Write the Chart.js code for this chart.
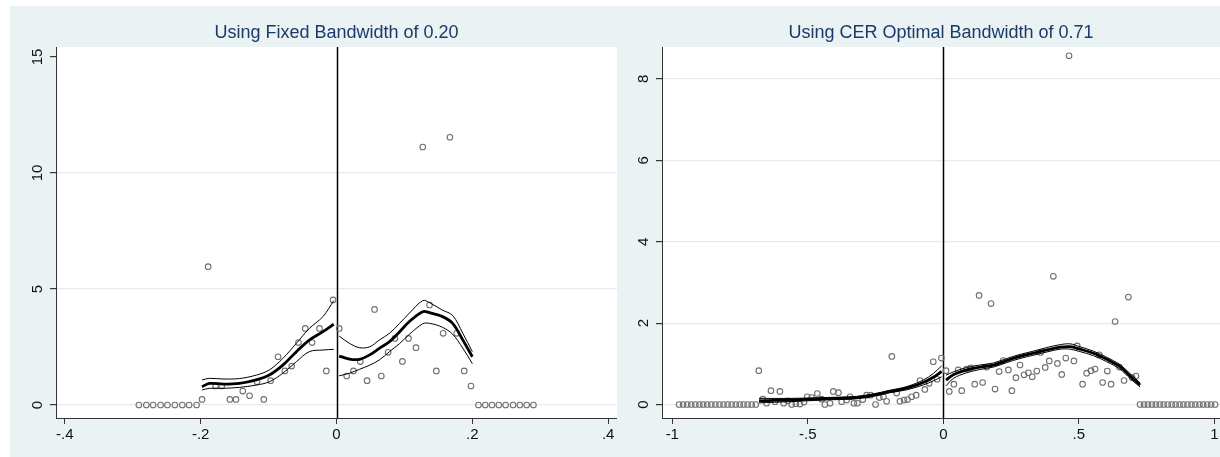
<!DOCTYPE html>
<html>
<head>
<meta charset="utf-8">
<title>RD plots: fixed vs CER bandwidth</title>
<script src="https://cdn.jsdelivr.net/npm/chart.js@4.4.1/dist/chart.umd.min.js"></script>
<style>
    html, body { margin: 0; padding: 0; background: #fff; }
    #page { position: relative; width: 1220px; height: 457px; overflow: hidden; }
    #bg { position: absolute; left: 10px; top: 6px; right: 0; bottom: 0; background: #EAF2F3; }
    #fixedChart { position: absolute; left: 0; top: 0; }
    #cerChart { position: absolute; left: 617px; top: 0; }
</style>
</head>
<body>
<div id="page">
    <div id="bg"></div>
    <canvas id="fixedChart" width="617" height="457"></canvas>
    <canvas id="cerChart" width="603" height="457"></canvas>
</div>
<script>
// --- Panel 1: fixed bandwidth of 0.20 ---
const fixedBinX = [
    -0.291, -0.280, -0.270, -0.259, -0.249, -0.238, -0.227, -0.217, -0.206,
    -0.198, -0.189, -0.178, -0.169, -0.157, -0.148, -0.138, -0.128, -0.117, -0.107,
    -0.097, -0.086, -0.076, -0.066, -0.056, -0.046, -0.036, -0.025, -0.015, -0.005,
    0.004, 0.015, 0.025, 0.035, 0.045, 0.056, 0.066, 0.076, 0.086, 0.097,
    0.106, 0.117, 0.127, 0.137, 0.147, 0.157, 0.167, 0.177, 0.188, 0.198,
    0.209, 0.219, 0.229, 0.239, 0.249, 0.260, 0.270, 0.280, 0.290
];
const fixedBinY = [
    0, 0, 0, 0, 0, 0, 0, 0, 0,
    0.24, 5.96, 0.82, 0.82, 0.24, 0.24, 0.60, 0.40, 1.00, 0.24,
    1.05, 2.08, 1.47, 1.68, 2.69, 3.30, 2.69, 3.30, 1.47, 4.53,
    3.30, 1.25, 1.47, 1.87, 1.05, 4.12, 1.25, 2.27, 2.87, 1.88,
    2.87, 2.47, 11.12, 4.31, 1.47, 3.09, 11.54, 3.09, 1.47, 0.82,
    0, 0, 0, 0, 0, 0, 0, 0, 0
];
const fixedFitLeftX = [-0.198, -0.187, -0.167, -0.143, -0.118, -0.099, -0.079, -0.059, -0.040, -0.020, -0.004];
const fixedFitLeft = [0.79, 0.93, 0.90, 0.93, 1.08, 1.29, 1.72, 2.30, 2.80, 3.16, 3.48];
const fixedUpperLeft = [1.08, 1.15, 1.12, 1.14, 1.29, 1.51, 2.01, 2.66, 3.30, 3.81, 4.50];
const fixedLowerLeft = [0.65, 0.72, 0.72, 0.76, 0.86, 1.00, 1.37, 1.87, 2.30, 2.37, 2.40];
const fixedFitRightX = [0.004, 0.019, 0.034, 0.049, 0.063, 0.078, 0.093, 0.107, 0.127, 0.137, 0.156, 0.171, 0.186, 0.200];
const fixedFitRight = [2.11, 1.98, 1.97, 2.16, 2.44, 2.73, 3.16, 3.59, 4.02, 3.98, 3.81, 3.52, 2.80, 2.08];
const fixedUpperRight = [2.97, 2.66, 2.47, 2.51, 2.80, 3.09, 3.52, 3.95, 4.50, 4.41, 4.09, 3.86, 3.09, 2.30];
const fixedLowerRight = [1.26, 1.37, 1.54, 1.72, 1.94, 2.30, 2.65, 3.04, 3.50, 3.52, 3.35, 3.05, 2.45, 1.78];

const fixedXTicks = [-0.4, -0.2, 0, 0.2, 0.4];
const fixedXLabels = ['-.4', '-.2', '0', '.2', '.4'];
const fixedYTicks = [0, 5, 10, 15];
const fixedYLabels = ['0', '5', '10', '15'];
const fixedYGrid = [0, 5, 10];

// --- Panel 2: CER optimal bandwidth of 0.71 ---
const cerBinX = [
    -0.975, -0.960, -0.945, -0.930, -0.915, -0.900, -0.886, -0.871, -0.856, -0.841,
    -0.826, -0.811, -0.796, -0.781, -0.766, -0.751, -0.737, -0.722, -0.707, -0.692,
    -0.681, -0.666, -0.652, -0.636, -0.621, -0.603, -0.589, -0.574, -0.559, -0.544,
    -0.529, -0.514, -0.502, -0.486, -0.465, -0.449, -0.437, -0.418, -0.406, -0.387,
    -0.375, -0.357, -0.344, -0.330, -0.317, -0.297, -0.283, -0.268, -0.250, -0.236,
    -0.221, -0.209, -0.190, -0.172, -0.160, -0.145, -0.132, -0.117, -0.100, -0.086,
    -0.068, -0.052, -0.037, -0.023, -0.007,
    0.010, 0.022, 0.039, 0.055, 0.068, 0.086, 0.101, 0.116, 0.132, 0.145,
    0.160, 0.176, 0.191, 0.206, 0.221, 0.240, 0.253, 0.268, 0.283, 0.298,
    0.314, 0.328, 0.345, 0.359, 0.376, 0.391, 0.406, 0.421, 0.437, 0.452,
    0.464, 0.482, 0.494, 0.514, 0.529, 0.545, 0.560, 0.576, 0.588, 0.605,
    0.619, 0.634, 0.650, 0.667, 0.683, 0.697, 0.711,
    0.726, 0.741, 0.755, 0.770, 0.784, 0.799, 0.813, 0.828, 0.843, 0.857,
    0.872, 0.886, 0.901, 0.916, 0.930, 0.945, 0.959, 0.974, 0.988, 1.003
];
const cerBinY = [
    0, 0, 0, 0, 0, 0, 0, 0, 0, 0,
    0, 0, 0, 0, 0, 0, 0, 0, 0, 0,
    0.83, 0.13, 0.03, 0.34, 0.07, 0.32, 0.03, 0.09, 0.00, 0.02,
    0.01, 0.06, 0.19, 0.17, 0.27, 0.13, 0.00, 0.03, 0.32, 0.29,
    0.07, 0.11, 0.19, 0.03, 0.03, 0.12, 0.23, 0.23, 0.00, 0.17,
    0.19, 0.08, 1.18, 0.28, 0.08, 0.11, 0.12, 0.19, 0.23, 0.59,
    0.37, 0.52, 1.05, 0.62, 1.14,
    0.83, 0.32, 0.50, 0.85, 0.34, 0.87, 0.90, 0.50, 2.68, 0.54,
    0.92, 2.48, 0.38, 0.81, 1.08, 0.85, 0.34, 0.66, 0.97, 0.73,
    0.78, 0.68, 0.82, 1.28, 0.91, 1.07, 3.15, 1.01, 0.74, 1.14,
    8.57, 1.07, 1.44, 0.50, 0.77, 0.83, 0.87, 1.22, 0.54, 0.82,
    0.50, 2.04, 0.92, 0.59, 2.64, 0.66, 0.70,
    0, 0, 0, 0, 0, 0, 0, 0, 0, 0,
    0, 0, 0, 0, 0, 0, 0, 0, 0, 0
];
const cerFitLeftX = [-0.680, -0.566, -0.443, -0.320, -0.258, -0.197, -0.135, -0.074, -0.037, -0.006];
const cerFitLeft = [0.09, 0.11, 0.14, 0.17, 0.23, 0.32, 0.40, 0.54, 0.67, 0.81];
const cerUpperLeft = [0.15, 0.15, 0.17, 0.20, 0.26, 0.35, 0.44, 0.60, 0.76, 0.95];
const cerLowerLeft = [0.04, 0.07, 0.11, 0.14, 0.20, 0.29, 0.36, 0.48, 0.58, 0.68];
const cerFitRightX = [0.010, 0.037, 0.086, 0.135, 0.185, 0.234, 0.283, 0.332, 0.382, 0.431, 0.468, 0.504, 0.554, 0.603, 0.652, 0.689, 0.726];
const cerFitRight = [0.60, 0.73, 0.85, 0.92, 0.97, 1.08, 1.18, 1.26, 1.34, 1.41, 1.42, 1.36, 1.26, 1.11, 0.93, 0.70, 0.48];
const cerUpperRight = [0.72, 0.80, 0.91, 0.97, 1.02, 1.13, 1.23, 1.31, 1.40, 1.47, 1.49, 1.42, 1.31, 1.16, 0.98, 0.76, 0.53];
const cerLowerRight = [0.46, 0.64, 0.78, 0.86, 0.92, 1.03, 1.13, 1.21, 1.29, 1.36, 1.36, 1.30, 1.20, 1.05, 0.87, 0.64, 0.43];

const cerXTicks = [-1, -0.5, 0, 0.5, 1];
const cerXLabels = ['-1', '-.5', '0', '.5', '1'];
const cerYTicks = [0, 2, 4, 6, 8];
const cerYLabels = ['0', '2', '4', '6', '8'];
const cerYGrid = [0, 2, 4, 6, 8];

const CUTOFF = 0;

// --- Styling ---
const FONT = '"Liberation Sans", Arial, sans-serif';
const TITLE_COLOR = '#1A3A6A';
const GRID_COLOR = '#E2EBEE';
const AXIS_COLOR = '#333';
const MARKER_COLOR = '#6f6f6f';

Chart.defaults.font.family = FONT;

const zip = (xs, ys) => xs.map((x, i) => ({ x: x, y: ys[i] }));

// white plot region, Stata style
const plotRegion = {
    id: 'plotRegion',
    beforeDraw(chart) {
        const { ctx, chartArea: a } = chart;
        ctx.save();
        ctx.fillStyle = '#fff';
        ctx.fillRect(a.left, a.top, a.width, a.height);
        ctx.restore();
    }
};

// vertical line at the cutoff
const cutoffLine = {
    id: 'cutoffLine',
    beforeDatasetsDraw(chart) {
        const { ctx, chartArea: a, scales } = chart;
        const x = Math.round(scales.x.getPixelForValue(CUTOFF)) + 0.5;
        ctx.save();
        ctx.strokeStyle = '#000';
        ctx.lineWidth = 1.5;
        ctx.beginPath();
        ctx.moveTo(x, a.top);
        ctx.lineTo(x, a.bottom);
        ctx.stroke();
        ctx.restore();
    }
};

/**
 * Rotated y tick labels (Chart.js won't rotate y-axis labels)
 */
function yLabelPlugin(ticks, labels, offset) {
    return {
        id: 'yLabels',
        afterDraw(chart) {
            const { ctx, chartArea: a, scales } = chart;
            ctx.save();
            ctx.fillStyle = '#111';
            ctx.font = '15px ' + FONT;
            ctx.textAlign = 'center';
            ctx.textBaseline = 'middle';
            ticks.forEach((v, i) => {
                ctx.save();
                ctx.translate(a.left - offset, scales.y.getPixelForValue(v));
                ctx.rotate(-Math.PI / 2);
                ctx.fillText(labels[i], 0, 0);
                ctx.restore();
            });
            ctx.restore();
        }
    };
}

function lineSet(xs, ys, width) {
    return {
        data: zip(xs, ys),
        showLine: true,
        borderColor: '#000',
        borderWidth: width,
        pointRadius: 0,
        tension: 0.35,
        order: 1
    };
}

/**
 * Builds one rdplot-like panel
 */
function buildPanel(canvasId, p) {
    const datasets = [];
    p.sides.forEach(s => {
        datasets.push(lineSet(s.x, s.fit, 2.8));
        datasets.push(lineSet(s.x, s.upper, 1));
        datasets.push(lineSet(s.x, s.lower, 1));
    });
    datasets.push({
        data: zip(p.binX, p.binY),
        showLine: false,
        pointRadius: 2.8,
        pointBorderWidth: 1.1,
        pointBorderColor: MARKER_COLOR,
        pointBackgroundColor: 'rgba(0,0,0,0)',
        order: 3
    });

    new Chart(document.getElementById(canvasId), {
        type: 'scatter',
        data: { datasets: datasets },
        options: {
            responsive: false,
            animation: false,
            devicePixelRatio: 1,
            // no auto padding: plot region must run to the canvas edge
            layout: { padding: 0, autoPadding: false },
            plugins: {
                legend: { display: false },
                tooltip: { enabled: false },
                title: {
                    display: true,
                    text: p.title,
                    fullSize: false,
                    color: TITLE_COLOR,
                    font: { size: 18, weight: 'normal', lineHeight: 1.2 },
                    padding: { top: 22.2, bottom: 3.2 }
                }
            },
            scales: {
                x: {
                    type: 'linear',
                    min: p.xRange[0],
                    max: p.xRange[1],
                    afterBuildTicks: s => { s.ticks = p.xTicks.map(v => ({ value: v })); },
                    afterFit: s => {
                        s.height = 39;
                        s.paddingLeft = 0;
                        s.paddingRight = 0;
                    },
                    ticks: {
                        autoSkip: false,
                        maxRotation: 0,
                        color: '#111',
                        padding: 2,
                        font: { size: 15 },
                        callback: (v, i) => p.xLabels[i]
                    },
                    grid: { drawOnChartArea: false, drawTicks: true, tickLength: 6, tickColor: AXIS_COLOR },
                    border: { display: true, color: AXIS_COLOR, width: 1 }
                },
                y: {
                    type: 'linear',
                    min: p.yRange[0],
                    max: p.yRange[1],
                    afterBuildTicks: s => { s.ticks = p.yTicks.map(v => ({ value: v })); },
                    afterFit: s => {
                        s.width = p.yAxisWidth;
                        s.paddingTop = 0;
                        s.paddingBottom = 0;
                    },
                    ticks: { display: false },
                    grid: {
                        color: c => (c.tick && p.yGrid.includes(c.tick.value)) ? GRID_COLOR : 'rgba(0,0,0,0)',
                        lineWidth: 1.2,
                        drawTicks: true,
                        tickLength: 6,
                        tickColor: AXIS_COLOR
                    },
                    border: { display: true, color: AXIS_COLOR, width: 1 }
                }
            }
        },
        plugins: [plotRegion, cutoffLine, yLabelPlugin(p.yTicks, p.yLabels, 18.5)]
    });
}

// --- Initialization ---
buildPanel('fixedChart', {
    title: 'Using Fixed Bandwidth of 0.20',
    binX: fixedBinX,
    binY: fixedBinY,
    sides: [
        { x: fixedFitLeftX, fit: fixedFitLeft, upper: fixedUpperLeft, lower: fixedLowerLeft },
        { x: fixedFitRightX, fit: fixedFitRight, upper: fixedUpperRight, lower: fixedLowerRight }
    ],
    xRange: [-0.413, 0.413],
    yRange: [-0.56, 15.43],
    xTicks: fixedXTicks,
    xLabels: fixedXLabels,
    yTicks: fixedYTicks,
    yLabels: fixedYLabels,
    yGrid: fixedYGrid,
    yAxisWidth: 56
});

buildPanel('cerChart', {
    title: 'Using CER Optimal Bandwidth of 0.71',
    binX: cerBinX,
    binY: cerBinY,
    sides: [
        { x: cerFitLeftX, fit: cerFitLeft, upper: cerUpperLeft, lower: cerLowerLeft },
        { x: cerFitRightX, fit: cerFitRight, upper: cerUpperRight, lower: cerLowerRight }
    ],
    xRange: [-1.038, 1.021],
    yRange: [-0.332, 8.785],
    xTicks: cerXTicks,
    xLabels: cerXLabels,
    yTicks: cerYTicks,
    yLabels: cerYLabels,
    yGrid: cerYGrid,
    yAxisWidth: 45
});
</script>
</body>
</html>
